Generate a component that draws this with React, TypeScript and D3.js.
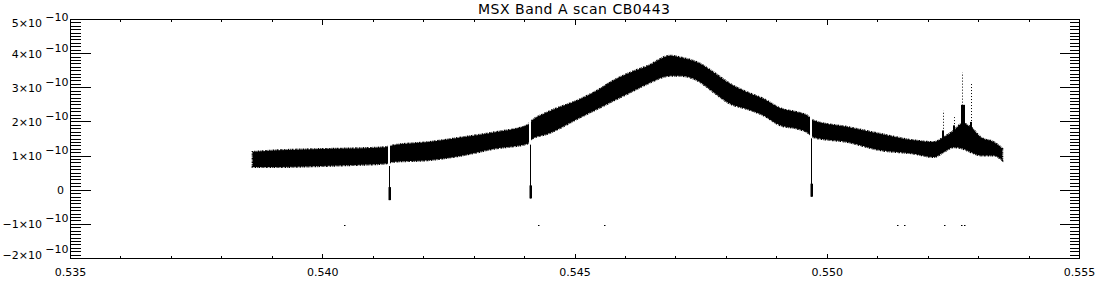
import React from "react";
import * as d3 from "d3";

// ---------- data (flux values in units of 1e-10) ----------
const TITLE = "MSX Band A scan CB0443";
const xDomain = [0.535, 0.555];
const yDomain = [-2, 5];
const xTickValues = [0.535, 0.54, 0.545, 0.55, 0.555];
const yTickValues = [-2, -1, 0, 1, 2, 3, 4, 5];

// envelope of the dense noisy scan (upper / lower edge of the point cloud)
const scanX = [
  0.53861, 0.53912, 0.5398, 0.54045, 0.54124, 0.54138, 0.5421, 0.54277, 0.54342, 0.54405,
  0.54415, 0.54445, 0.54511, 0.54544, 0.54576, 0.5461, 0.54644, 0.54689, 0.54709, 0.54743,
  0.54775, 0.54808, 0.54841, 0.54874, 0.54907, 0.54941, 0.5496, 0.54973, 0.5504, 0.55106,
  0.55172, 0.55211, 0.55231, 0.55251, 0.55268, 0.55284, 0.55304, 0.5533, 0.55347,
];
const bandUpper = [
  1.12, 1.17, 1.2, 1.22, 1.26, 1.31, 1.41, 1.55, 1.7, 1.9,
  2.04, 2.28, 2.67, 2.92, 3.21, 3.45, 3.64, 3.94, 3.89, 3.74,
  3.45, 3.11, 2.87, 2.67, 2.4, 2.28, 2.19, 2.04, 1.85, 1.65,
  1.46, 1.41, 1.55, 1.75, 1.95, 1.85, 1.55, 1.41, 1.22,
];
const bandLower = [
  0.68, 0.68, 0.7, 0.73, 0.78, 0.83, 0.88, 1.02, 1.22, 1.36,
  1.51, 1.65, 2.14, 2.38, 2.62, 2.87, 3.12, 3.35, 3.35, 3.21,
  2.87, 2.53, 2.38, 2.19, 1.9, 1.8, 1.7, 1.55, 1.41, 1.17,
  1.07, 0.97, 1.12, 1.26, 1.22, 1.12, 1.02, 1.02, 0.88,
];

// narrow dropouts (gap in the band + dip below zero)
const dipX = [0.54132, 0.5441, 0.54967];
const dipMin = [-0.29, -0.24, -0.19];

// emission spikes near 0.5526
const spikeX = [0.55229, 0.55252, 0.55268, 0.55284];
const spikeTop = [2.33, 2.14, 3.45, 3.16];
const spikeDense = [1.75, 1.9, 2.5, 2.0];

// isolated points near -1e-10
const outlierX = [0.54043, 0.54427, 0.54558, 0.55139, 0.55153, 0.55232, 0.55266, 0.55272];
const outlierY = [-1.02, -1.02, -1.02, -1.02, -1.02, -1.02, -1.02, -1.02];

// ---------- layout ----------
const W = 1100;
const H = 300;
const L = 70.5;
const R = 1079.5;
const T = 19.5;
const B = 258.5;
const FONT = "'DejaVu Sans', sans-serif";
const WEIGHT = 400;

function interp(xs: number[], ys: number[], v: number) {
  const i = Math.max(1, Math.min(xs.length - 1, d3.bisectLeft(xs, v)));
  const t = (v - xs[i - 1]) / (xs[i] - xs[i - 1]);
  return ys[i - 1] + t * (ys[i] - ys[i - 1]);
}

export default function App() {
  const x = d3.scaleLinear().domain(xDomain).range([L, R]);
  const y = d3.scaleLinear().domain(yDomain).range([B, T]);

  const pts = scanX.map((v, i) => ({ x: v, u: bandUpper[i], l: bandLower[i] }));
  const area = d3
    .area<{ x: number; u: number; l: number }>()
    .curve(d3.curveMonotoneX)
    .x((d) => x(d.x))
    .y0((d) => y(d.l))
    .y1((d) => y(d.u));

  const xMinor = x.ticks(20);
  const yMinor = y.ticks(70);

  const xMajorLen = 5;
  const xMinorLen = 2.5;
  const yMajorLen = 20;
  const yMinorLen = 10;

  const fmtX = d3.format(".3f");

  return (
    <svg
      width={W}
      height={H}
      style={{ position: "absolute", left: 0, top: 0, background: "#fff" }}
    >
      <rect x={0} y={0} width={W} height={H} fill="#fff" />

      {/* data band */}
      <path d={area(pts) || ""} fill="#000" stroke="none" />
      <path
        d={area(pts) || ""}
        fill="none"
        stroke="#000"
        strokeWidth={2}
        strokeDasharray="0.7 0.9 1.3 0.6 0.5 1.1 1.6 0.8"
      />

      {/* spikes */}
      {spikeX.map((sx, i) => {
        const base = interp(scanX, bandUpper, sx);
        const px = Math.round(x(sx)) + 0.5;
        return (
          <g key={"sp" + i}>
            <line
              x1={px}
              x2={px}
              y1={y(base)}
              y2={y(spikeTop[i])}
              stroke="#000"
              strokeWidth={1}
              strokeDasharray="1 2"
            />
            <rect
              x={px - 1.5}
              y={y(spikeDense[i])}
              width={i === 2 ? 4 : 2}
              height={y(base) - y(spikeDense[i]) + 1}
              fill="#000"
            />
          </g>
        );
      })}

      {/* dropouts */}
      {dipX.map((dx, i) => {
        const px = Math.round(x(dx));
        const up = interp(scanX, bandUpper, dx) + 0.5;
        const lo = interp(scanX, bandLower, dx) - 0.1;
        return (
          <g key={"dip" + i}>
            <rect x={px - 1} y={y(up)} width={2} height={y(lo) - y(up)} fill="#fff" />
            <line
              x1={px + 0.5}
              x2={px + 0.5}
              y1={y(lo)}
              y2={y(dipMin[i])}
              stroke="#000"
              strokeWidth={1}
            />
            <rect x={px - 0.5} y={y(dipMin[i]) - 13} width={2.5} height={13} fill="#000" />
          </g>
        );
      })}

      {/* isolated points */}
      {outlierX.map((ox, i) => (
        <rect key={"o" + i} x={Math.round(x(ox))} y={Math.round(y(outlierY[i]))} width={1.5} height={1} fill="#000" />
      ))}

      {/* axes box */}
      <g shapeRendering="crispEdges" stroke="#000" strokeWidth={1}>
        <rect x={L} y={T} width={R - L} height={B - T} fill="none" />
        {xMinor.map((v, i) => {
          const major = xTickValues.some((t) => Math.abs(t - v) < 1e-9);
          const len = major ? xMajorLen : xMinorLen;
          const px = x(v);
          return (
            <g key={"xt" + i}>
              <line x1={px} x2={px} y1={B} y2={B - len} />
              <line x1={px} x2={px} y1={T} y2={T + len} />
            </g>
          );
        })}
        {yMinor.map((v, i) => {
          const major = yTickValues.some((t) => Math.abs(t - v) < 1e-9);
          const len = major ? yMajorLen : yMinorLen;
          const py = y(v);
          return (
            <g key={"yt" + i}>
              <line x1={L} x2={L + len} y1={py} y2={py} />
              <line x1={R} x2={R - len} y1={py} y2={py} />
            </g>
          );
        })}
      </g>

      {/* title */}
      <text
        x={574}
        y={13.5}
        textAnchor="middle"
        fontFamily={FONT}
        fontWeight={WEIGHT}
        fontSize={14}
        textLength={192}
        lengthAdjust="spacing"
        fill="#000"
      >
        {TITLE}
      </text>

      {/* x labels */}
      {xTickValues.map((v, i) => (
        <text
          key={"xl" + i}
          x={x(v)}
          y={276}
          textAnchor="middle"
          fontFamily={FONT}
          fontWeight={WEIGHT}
          fontSize={11}
          fill="#000"
        >
          {fmtX(v)}
        </text>
      ))}

      {/* y labels */}
      {yTickValues.map((v, i) => {
        const cy = Math.max(T + 3.5, Math.min(B - 3.5, y(v)));
        if (v === 0) {
          return (
            <text key={"yl" + i} x={64} y={cy + 4} textAnchor="end" fontFamily={FONT} fontWeight={WEIGHT} fontSize={11} fill="#000">
              0
            </text>
          );
        }
        const mant = (v < 0 ? "\u2212" : "") + Math.abs(v) + "\u00d710";
        return (
          <g key={"yl" + i} fontFamily={FONT} fontWeight={WEIGHT} fontSize={11} fill="#000">
            <text x={42} y={cy + 4} textAnchor="end">
              {mant}
            </text>
            <text x={68.5} y={cy - 2} textAnchor="end">
              {"\u221210"}
            </text>
          </g>
        );
      })}
    </svg>
  );
}
